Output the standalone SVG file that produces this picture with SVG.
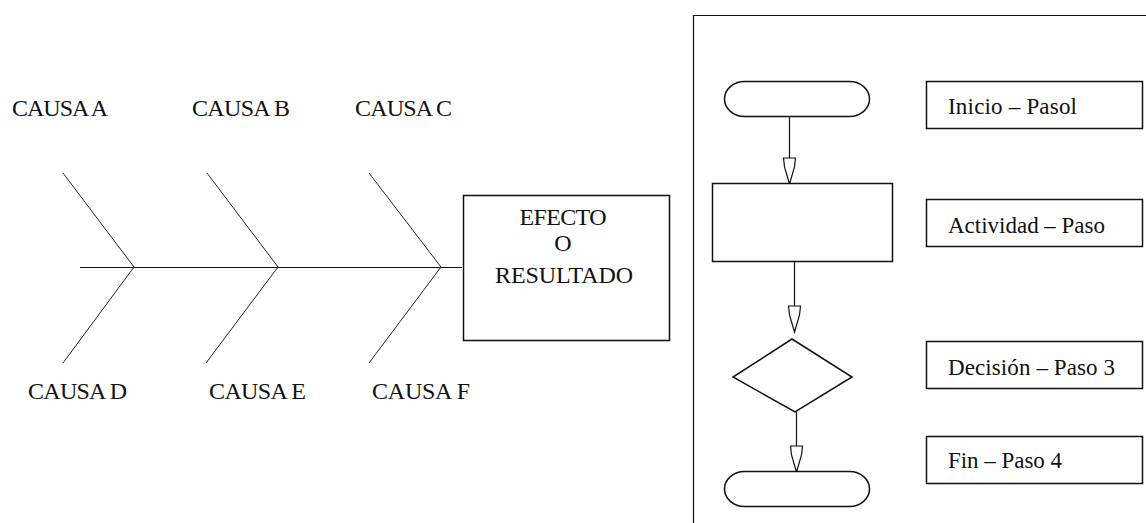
<svg xmlns="http://www.w3.org/2000/svg" width="1146" height="523" viewBox="0 0 1146 523">
  <style>
    .ln { stroke: #111; stroke-width: 1.2; fill: none; }
    .box { stroke: #111; stroke-width: 1.5; fill: #fff; }
    .bone { stroke: #222; stroke-width: 1; fill: none; }
    .t { font-family: "Liberation Serif", "Times New Roman", serif; font-size: 24px; fill: #111; }
    .s { font-size: 23px; }
    .c { text-anchor: middle; }
    .head { stroke: #111; stroke-width: 1.2; fill: #fff; stroke-linejoin: miter; }
  </style>
  <defs>
    <polygon id="openHead" points="-6,-25 6,-25 5,-16 0,1 -5,-16"/>
  </defs>
  <rect width="1146" height="523" fill="#fff"/>

  <!-- Ishikawa (fishbone) diagram -->
  <g id="fishbone">
    <g id="bones">
      <line class="ln" x1="80" y1="267.5" x2="462" y2="267.5"/>
      <line class="bone" x1="63" y1="173" x2="134" y2="267"/>
      <line class="bone" x1="134" y1="267" x2="63" y2="363"/>
      <line class="bone" x1="207" y1="173" x2="278" y2="267"/>
      <line class="bone" x1="278" y1="267" x2="206" y2="363"/>
      <line class="bone" x1="369" y1="173" x2="441" y2="267"/>
      <line class="bone" x1="441" y1="267" x2="369" y2="363"/>
    </g>
    <g id="causa-a"><text class="t" x="12" y="116" textLength="96">CAUSA A</text></g>
    <g id="causa-b"><text class="t" x="192" y="116" textLength="98">CAUSA B</text></g>
    <g id="causa-c"><text class="t" x="355" y="116" textLength="97">CAUSA C</text></g>
    <g id="causa-d"><text class="t" x="28" y="399" textLength="99">CAUSA D</text></g>
    <g id="causa-e"><text class="t" x="209" y="399" textLength="97">CAUSA E</text></g>
    <g id="causa-f"><text class="t" x="372" y="399" textLength="98">CAUSA F</text></g>
    <g id="efecto">
      <rect class="box" x="463.5" y="195.5" width="206" height="145"/>
      <text class="t c" x="563" y="225" textLength="87">EFECTO</text>
      <text class="t c" x="563" y="251">O</text>
      <text class="t c" x="564" y="283" textLength="138">RESULTADO</text>
    </g>
  </g>

  <!-- Flowchart symbol legend -->
  <g id="panel">
    <path class="ln" d="M693.5,523 V15.5 H1146" stroke-width="1.5"/>
  </g>

  <g id="connectors">
    <line class="ln" x1="789.5" y1="117" x2="789.5" y2="183"/>
    <use href="#openHead" class="head" x="789.5" y="183"/>
    <line class="ln" x1="794.5" y1="261" x2="794.5" y2="331"/>
    <use href="#openHead" class="head" x="794.5" y="331"/>
    <line class="ln" x1="796.5" y1="412" x2="796.5" y2="471"/>
    <use href="#openHead" class="head" x="796.5" y="471"/>
  </g>

  <g id="inicio-symbol">
    <rect class="box" x="724.5" y="81.5" width="145" height="35" rx="20" ry="17.5" stroke-width="1.2"/>
  </g>
  <g id="actividad-symbol">
    <rect class="box" x="712.5" y="183.5" width="180" height="78" stroke-width="1.2"/>
  </g>
  <g id="decision-symbol">
    <polygon class="box" points="792,339 852,377 795,412 733,377" stroke-width="1.2"/>
  </g>
  <g id="fin-symbol">
    <rect class="box" x="724.5" y="471.5" width="145" height="35" rx="20" ry="17.5" stroke-width="1.2"/>
  </g>

  <g id="label-inicio">
    <rect class="box" x="926.5" y="81.5" width="216" height="47"/>
    <text class="t s" x="948" y="114" textLength="129">Inicio – Pasol</text>
  </g>
  <g id="label-actividad">
    <rect class="box" x="926.5" y="199.5" width="216" height="47"/>
    <text class="t s" x="948" y="233" textLength="157">Actividad – Paso</text>
  </g>
  <g id="label-decision">
    <rect class="box" x="926.5" y="341.5" width="216" height="47"/>
    <text class="t s" x="948" y="375" textLength="167">Decisión – Paso 3</text>
  </g>
  <g id="label-fin">
    <rect class="box" x="926.5" y="436.5" width="216" height="47"/>
    <text class="t s" x="948" y="468" textLength="114">Fin – Paso 4</text>
  </g>
</svg>
